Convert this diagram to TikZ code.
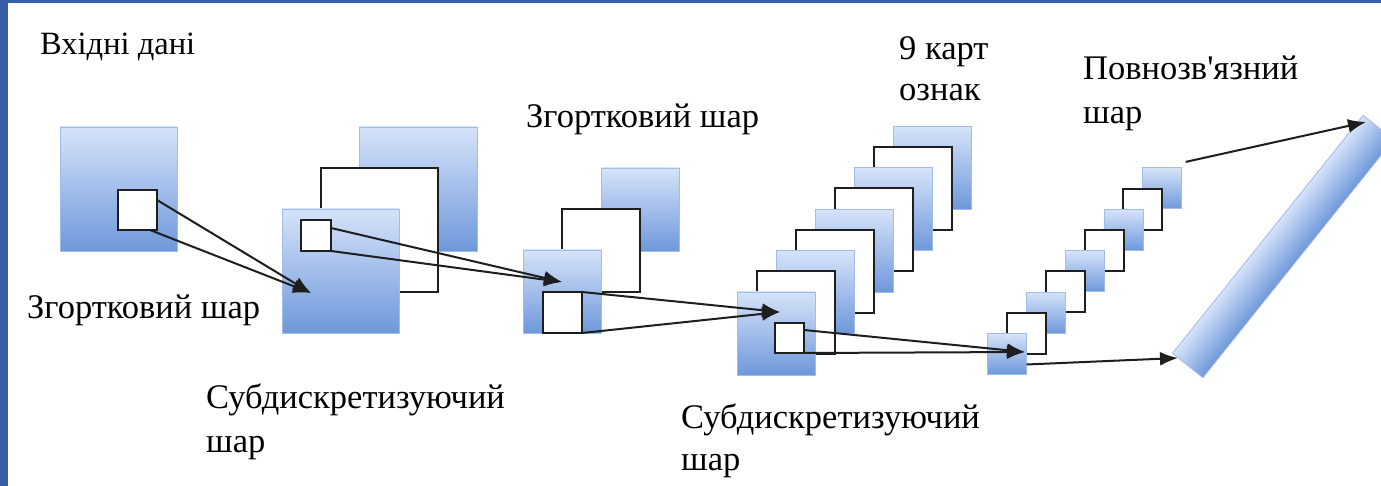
\documentclass[tikz,border=0pt]{standalone}
\usepackage{fontspec}
\newfontfamily\lbl{Liberation Serif}
\usetikzlibrary{arrows.meta,calc}
\definecolor{fmtop}{RGB}{214,227,249}
\definecolor{fmbot}{RGB}{110,152,219}
\definecolor{fmedge}{RGB}{160,188,233}
\definecolor{framecol}{RGB}{56,94,168}
\definecolor{ink}{RGB}{30,30,30}

\begin{document}
\begin{tikzpicture}[x=1pt,y=-1pt,
  fmap/.style={rectangle,inner sep=0pt,outer sep=0pt,top color=fmtop,bottom color=fmbot,draw=fmedge,line width=0.8pt},
  wmap/.style={rectangle,inner sep=0pt,outer sep=0pt,fill=white,draw=ink,line width=2pt},
  big/.style={minimum width=117pt,minimum height=124pt},
  mid/.style={minimum width=78pt,minimum height=83pt},
  sml/.style={minimum width=39pt,minimum height=41pt},
  lab/.style={anchor=base west,inner sep=0pt,font=\lbl\fontsize{34.5}{40}\selectfont,text=black},
  link/.style={draw=ink,line width=2pt},
  head/.style={-{Latex[length=18pt,width=14pt]}}
]
\useasboundingbox (0,0) rectangle (1381,486);
\fill[white] (0,0) rectangle (1381,486);
% frame strips
\fill[framecol] (0,0) rectangle (8,486);
\fill[framecol] (0,0) rectangle (1381,3);

% input
\node[fmap,big] (a) at (118.5,189) {};
\node[wmap,minimum width=39pt,minimum height=40pt] (as) at (137.5,210) {};

% first convolution layer
\node[fmap,minimum width=118pt,minimum height=124pt] (b2) at (418,189) {};
\node[wmap,big] (b1) at (379.5,230.5) {};
\node[fmap,big] (b0) at (340.5,271) {};
\node[wmap,minimum width=30pt,minimum height=31pt] (bs) at (316,235.5) {};

% first subsampling layer
\node[fmap,mid] (c2) at (640.5,209.5) {};
\node[wmap,mid] (c1) at (601,251) {};
\node[fmap,mid] (c0) at (562.5,291.5) {};
\node[wmap,minimum width=39pt,minimum height=41pt] (cs) at (562.5,312.5) {};

% nine feature maps
\foreach \i in {8,7,...,0}{
  \pgfmathsetmacro{\cx}{776+19.5*\i}
  \pgfmathsetmacro{\cy}{333.5-20.7*\i}
  \ifodd\i
    \node[wmap,mid] (d\i) at (\cx,\cy) {};
  \else
    \node[fmap,mid] (d\i) at (\cx,\cy) {};
  \fi
}
\node[wmap,minimum width=29pt,minimum height=30pt] (ds) at (789.5,338) {};

% second subsampling layer
\foreach \i in {8,7,...,0}{
  \pgfmathsetmacro{\cx}{1007+19.4*\i}
  \pgfmathsetmacro{\cy}{354-20.7*\i}
  \ifodd\i
    \node[wmap,sml] (e\i) at (\cx,\cy) {};
  \else
    \node[fmap,sml] (e\i) at (\cx,\cy) {};
  \fi
}

% fully connected layer: a tilted bar, shaded across its width
\begin{scope}
\clip (0,0) rectangle (1381,486);
\begin{scope}[transform canvas={shift={(1283,246.5)},rotate=51.3}]
\shade[top color=fmtop,bottom color=fmbot,draw=fmedge,line width=0.8pt]
  (-152.5,-19.5) rectangle (152.5,19.5);
\end{scope}
\end{scope}

% connectors
\coordinate (t1) at (311,293);
\coordinate (t2) at (562,282);
\coordinate (t3) at (780,312);
\coordinate (t4) at (1025,352);
\coordinate (t5) at (1178,358);
\coordinate (t6) at (1366,122);

\draw[link,head] ($(as.north east)+(0,10)$) -- (t1);
\draw[link,head] ($(as.south east)+(-7,0)$) -- (t1);
\draw[link,head] ($(bs.north east)+(0,8)$) -- (t2);
\draw[link,head] (bs.south east) -- (t2);
\draw[link,head] (cs.north east) -- (t3);
\draw[link,head] (cs.south east) -- (t3);
\draw[link,head] ($(ds.north east)+(0,7)$) -- (t4);
\draw[link,head] (ds.south east) -- (t4);
\draw[link,head] ($(e0.south east)+(0,-10)$) -- (t5);
\draw[link,head] ($(e8.north east)+(4,-6)$) -- (t6);

% labels
\node[lab,font=\lbl\fontsize{32.5}{40}\selectfont] (l1) at (40,55) {Вхідні дані};
\node[lab] (l2) at (27,318) {Згортковий шар};
\node[lab] (l3a) at (206,408) {Субдискретизуючий};
\node[lab] (l3b) at (206,452) {шар};
\node[lab] (l4) at (526,128) {Згортковий шар};
\node[lab] (l5a) at (899,60) {9 карт};
\node[lab] (l5b) at (899,101) {ознак};
\node[lab] (l6a) at (681,428) {Субдискретизуючий};
\node[lab] (l6b) at (681,470) {шар};
\node[lab] (l7a) at (1083,80) {Повнозв'язний};
\node[lab] (l7b) at (1083,124) {шар};
\end{tikzpicture}
\end{document}
